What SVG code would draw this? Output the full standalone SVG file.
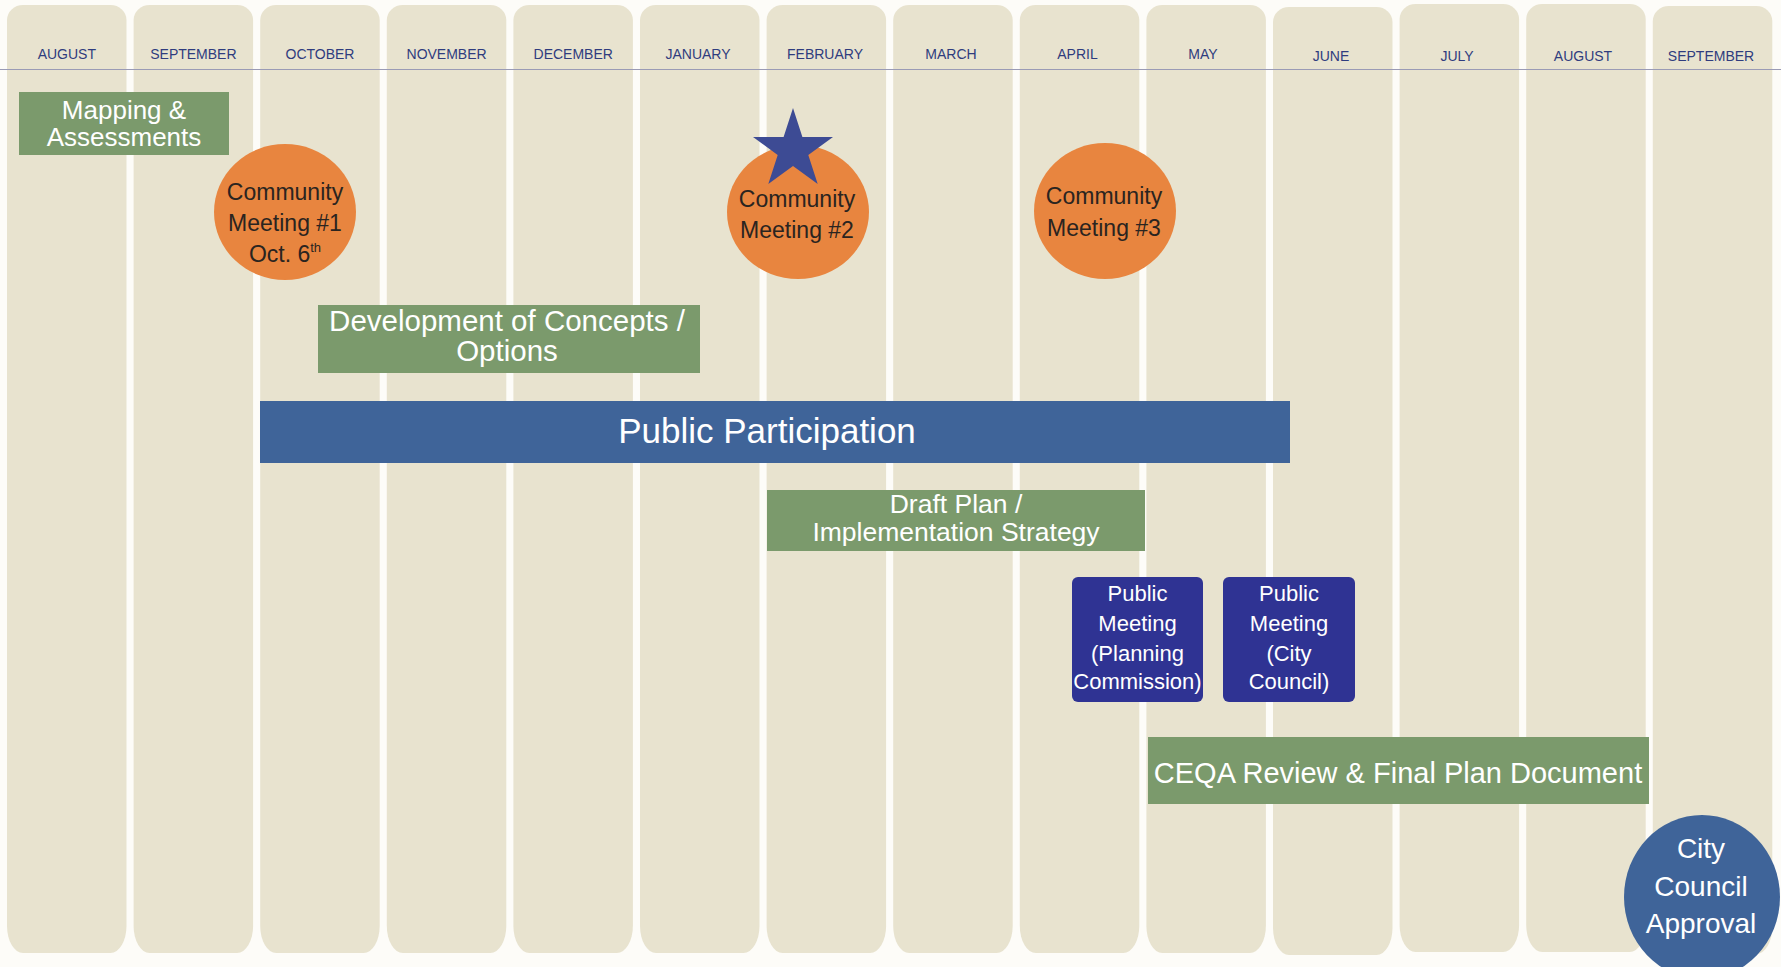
<svg xmlns="http://www.w3.org/2000/svg" width="1781" height="967" viewBox="0 0 1781 967">
<style>
.month{font-family:"Liberation Sans",Arial,sans-serif;font-size:14px;fill:#2F3C7E;text-anchor:middle}
.col{fill:#E8E3CF}
.green{fill:#7B9A6C}
.orange{fill:#E8853F}
.wt{font-family:"Liberation Sans",Arial,sans-serif;fill:#FFFFFF;text-anchor:middle}
.dt{font-family:"Liberation Sans",Arial,sans-serif;fill:#2A2420;text-anchor:middle;font-size:23px}
.pm{fill:#2F3393}
.blue{fill:#3F6499}
</style>
<defs>
<path id="colshape" d="M0,15 A16,15 0 0 1 16,0 H103.5 A16,15 0 0 1 119.5,15 V921 A16,27 0 0 1 103.5,948 H16 A16,27 0 0 1 0,921 Z"/>
</defs>
<rect x="0" y="0" width="1781" height="967" fill="#FDFCF8"/>
<g id="columns">
<use href="#colshape" class="col" x="7" y="5"/>
<use href="#colshape" class="col" x="133.6" y="5"/>
<use href="#colshape" class="col" x="260.2" y="5"/>
<use href="#colshape" class="col" x="386.8" y="5"/>
<use href="#colshape" class="col" x="513.4" y="5"/>
<use href="#colshape" class="col" x="640" y="5"/>
<use href="#colshape" class="col" x="766.6" y="5"/>
<use href="#colshape" class="col" x="893.2" y="5"/>
<use href="#colshape" class="col" x="1019.8" y="5"/>
<use href="#colshape" class="col" x="1146.4" y="5"/>
<use href="#colshape" class="col" x="1273" y="7"/>
<use href="#colshape" class="col" x="1399.6" y="4"/>
<use href="#colshape" class="col" x="1526.2" y="4"/>
<use href="#colshape" class="col" x="1652.8" y="6"/>
</g>
<line x1="0" y1="69.5" x2="1781" y2="69.5" stroke="#9A9BB5" stroke-width="1"/>
<g id="months">
<text class="month" x="66.8" y="59">AUGUST</text>
<text class="month" x="193.4" y="59">SEPTEMBER</text>
<text class="month" x="320" y="59">OCTOBER</text>
<text class="month" x="446.6" y="59">NOVEMBER</text>
<text class="month" x="573.2" y="59">DECEMBER</text>
<text class="month" x="698" y="59">JANUARY</text>
<text class="month" x="825" y="59">FEBRUARY</text>
<text class="month" x="951" y="59">MARCH</text>
<text class="month" x="1077.5" y="59">APRIL</text>
<text class="month" x="1203" y="59">MAY</text>
<text class="month" x="1331" y="61">JUNE</text>
<text class="month" x="1457" y="61">JULY</text>
<text class="month" x="1583" y="61">AUGUST</text>
<text class="month" x="1711" y="61">SEPTEMBER</text>
</g>
<g id="mapping">
<rect class="green" x="19" y="92" width="210" height="63"/>
<text class="wt" font-size="26" x="124" y="119">Mapping &amp;</text>
<text class="wt" font-size="26" x="124" y="146">Assessments</text>
</g>
<g id="community1">
<ellipse class="orange" cx="285" cy="212" rx="71" ry="68"/>
<text class="dt" x="285" y="200">Community</text>
<text class="dt" x="285" y="231">Meeting #1</text>
<text class="dt" x="285" y="262">Oct. 6<tspan font-size="13" dy="-10">th</tspan></text>
</g>
<g id="community2">
<ellipse class="orange" cx="798" cy="212" rx="71" ry="67"/>
<text class="dt" x="797" y="207">Community</text>
<text class="dt" x="797" y="238">Meeting #2</text>
</g>
<g id="star">
<polygon fill="#3D4B94" points="793,108 802.4,137 833,137 808.3,155 817.7,184 793,166 768.3,184 777.7,155 753,137 783.6,137"/>
</g>
<g id="community3">
<ellipse class="orange" cx="1105" cy="211" rx="71" ry="68"/>
<text class="dt" x="1104" y="204">Community</text>
<text class="dt" x="1104" y="236">Meeting #3</text>
</g>
<g id="development">
<rect class="green" x="318" y="305" width="382" height="68"/>
<text class="wt" font-size="29.5" x="507" y="331">Development of Concepts /</text>
<text class="wt" font-size="29.5" x="507" y="361">Options</text>
</g>
<g id="public-participation">
<rect class="blue" x="260" y="401" width="1030" height="62"/>
<text class="wt" font-size="35" x="767" y="443">Public Participation</text>
</g>
<g id="draft-plan">
<rect class="green" x="767" y="490" width="378" height="61"/>
<text class="wt" font-size="26.5" x="956" y="513">Draft Plan /</text>
<text class="wt" font-size="26.5" x="956" y="541">Implementation Strategy</text>
</g>
<g id="pm-planning">
<rect class="pm" x="1072" y="577" width="131" height="125" rx="6"/>
<text class="wt" font-size="22" x="1137.5" y="601">Public</text>
<text class="wt" font-size="22" x="1137.5" y="631">Meeting</text>
<text class="wt" font-size="22" x="1137.5" y="661">(Planning</text>
<text class="wt" font-size="22" x="1137.5" y="689">Commission)</text>
</g>
<g id="pm-council">
<rect class="pm" x="1223" y="577" width="132" height="125" rx="6"/>
<text class="wt" font-size="22" x="1289" y="601">Public</text>
<text class="wt" font-size="22" x="1289" y="631">Meeting</text>
<text class="wt" font-size="22" x="1289" y="661">(City</text>
<text class="wt" font-size="22" x="1289" y="689">Council)</text>
</g>
<g id="ceqa">
<rect class="green" x="1148" y="737" width="501" height="67"/>
<text class="wt" font-size="29" x="1398" y="783">CEQA Review &amp; Final Plan Document</text>
</g>
<g id="city-council-approval">
<ellipse class="blue" cx="1702" cy="897" rx="78" ry="82"/>
<text class="wt" font-size="28" x="1701" y="858">City</text>
<text class="wt" font-size="28" x="1701" y="896">Council</text>
<text class="wt" font-size="28" x="1701" y="933">Approval</text>
</g>
<g id="connectors"/>
</svg>
